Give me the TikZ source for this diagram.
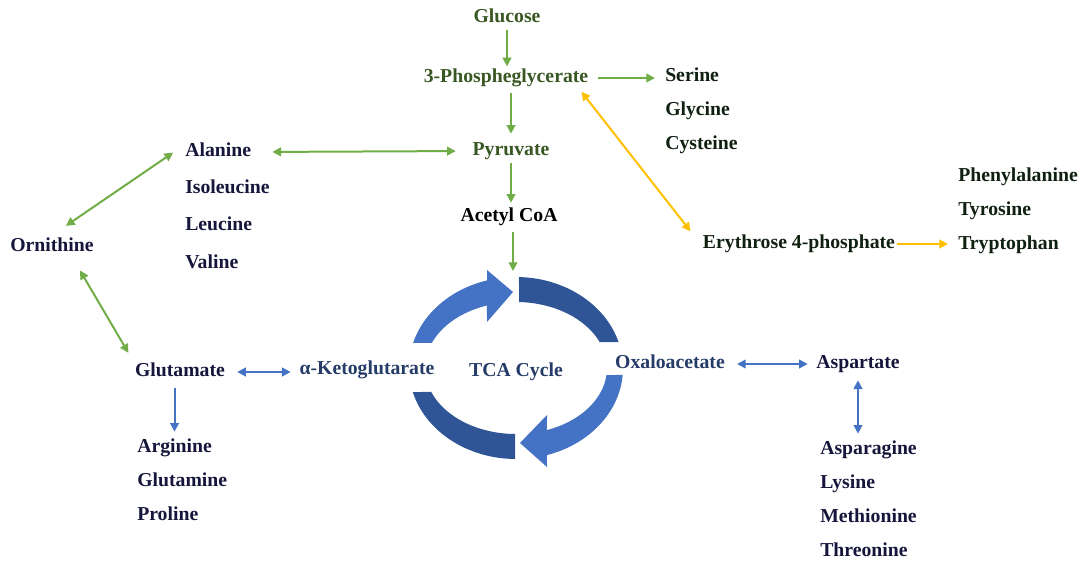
\documentclass[tikz,border=0pt]{standalone}
\usepackage{fontspec}
\setmainfont{Liberation Serif}
\usetikzlibrary{arrows.meta}

\definecolor{gline}{HTML}{70AD47}
\definecolor{bline}{HTML}{4472C4}
\definecolor{yline}{HTML}{FFC000}
\definecolor{cyclight}{HTML}{4472C4}
\definecolor{cycdark}{HTML}{2F5597}
\definecolor{gtext}{HTML}{385723}
\definecolor{ftext}{HTML}{0F2010}
\definecolor{ntext}{HTML}{16163C}
\definecolor{btext}{HTML}{253C68}

\begin{document}
\begin{tikzpicture}[x=0.75pt,y=-0.75pt,
  lbl/.style={inner sep=1.5pt, font=\fontsize{14.8}{18}\selectfont\bfseries,
              text height=10.4pt, text depth=3.7pt},
  lst/.style={lbl, anchor=west},
  link/.style={line width=1.5pt, -{Triangle[length=6.5pt,width=6.5pt]}},
  both/.style={line width=1.5pt, {Triangle[length=6.5pt,width=6.5pt]}-{Triangle[length=6.5pt,width=6.5pt]}},
  grn/.style={draw=gline, fill=gline},
  blu/.style={draw=bline, fill=bline},
  ylw/.style={draw=yline, fill=yline}]
\useasboundingbox (0,0) rectangle (1085,561);

% glycolysis branch
\node[lbl, text=gtext] (glc) at (507,18) {Glucose};
\node[lbl, text=gtext] (pg) at (506,78) {3-Phospheglycerate};
\node[lbl, text=gtext] (pyr) at (511,151) {Pyruvate};
\node[lbl, text=black] (acoa) at (509,217) {Acetyl CoA};

\node[lst, text=ftext] (ser) at (663,77) {Serine};
\node[lst, text=ftext] (gly) at (663,111) {Glycine};
\node[lst, text=ftext] (cys) at (663,145) {Cysteine};

\node[lst, text=ntext] (ala) at (183,152) {Alanine};
\node[lst, text=ntext] (ile) at (183,189) {Isoleucine};
\node[lst, text=ntext] (leu) at (183,226) {Leucine};
\node[lst, text=ntext] (val) at (183,264) {Valine};

\node[lbl, text=ntext] (orn) at (52,247) {Ornithine};
\node[lbl, text=ntext] (glu) at (180,372) {Glutamate};
\node[lbl, text=btext] (akg) at (367,370) {α-Ketoglutarate};
\node[lbl, text=btext] (tca) at (516,372) {TCA Cycle};
\node[lbl, text=btext] (oaa) at (670,364) {Oxaloacetate};
\node[lbl, text=ntext] (asp) at (858,364) {Aspartate};

\node[lst, text=ntext] (arg) at (135,448) {Arginine};
\node[lst, text=ntext] (gln) at (135,482) {Glutamine};
\node[lst, text=ntext] (pro) at (135,516) {Proline};

\node[lst, text=ntext] (asn) at (818,450) {Asparagine};
\node[lst, text=ntext] (lys) at (818,484) {Lysine};
\node[lst, text=ntext] (met) at (818,518) {Methionine};
\node[lst, text=ntext] (thr) at (818,552) {Threonine};

\node[lbl, text=ftext] (e4p) at (799,244) {Erythrose 4-phosphate};
\node[lst, text=ftext] (phe) at (956,177) {Phenylalanine};
\node[lst, text=ftext] (tyr) at (956,211) {Tyrosine};
\node[lst, text=ftext] (trp) at (956,245) {Tryptophan};

% TCA cycle ring: two arrows and two block arcs
\begin{scope}[shift={(516,368)}]
  \fill[cyclight] (-164.05:107 and 91)
     arc[start angle=-164.05, end angle=-105.7, x radius=107, y radius=91]
     -- (-29,-98) -- (-3,-76) -- (-29,-46)
     -- (-108.6:91 and 66)
     arc[start angle=-108.6, end angle=-157.7, x radius=91, y radius=66]
     -- cycle;
  \fill[cycdark] (-88.4:107 and 91)
     arc[start angle=-88.4, end angle=-16.6, x radius=107, y radius=91]
     -- (-23.2:91 and 66)
     arc[start angle=-23.2, end angle=-88.1, x radius=91, y radius=66]
     -- cycle;
  \fill[cyclight] (4.4:107 and 91)
     arc[start angle=4.4, end angle=73.2, x radius=107, y radius=91]
     -- (31,99) -- (4,75) -- (31,47)
     -- (70.1:91 and 66)
     arc[start angle=70.1, end angle=6.1, x radius=91, y radius=66]
     -- cycle;
  \fill[cycdark] (164.7:107 and 91)
     arc[start angle=164.7, end angle=90.5, x radius=107, y radius=91]
     -- (90.6:91 and 66)
     arc[start angle=90.6, end angle=158.7, x radius=91, y radius=66]
     -- cycle;
  \coordinate (cyctop) at (-3,-97);
\end{scope}

% green connectors
\draw[link, grn] (glc.south) -- (glc.south |- pg.north);
\draw[link, grn, shorten <=2.7pt, shorten >=4.2pt] (pyr.north |- pg.south) -- (pyr.north);
\draw[link, grn, shorten >=2pt] (pyr.south) -- (pyr.south |- acoa.north);
\draw[link, grn, shorten <=2.3pt] (acoa.south -| cyctop) -- (cyctop);
\draw[link, grn, shorten <=5.3pt, shorten >=6pt] (pg.east) -- (pg.east -| ser.west);
\draw[both, grn, shorten <=14.3pt, shorten >=11pt] (ala.east) -- (pyr.west);
\draw[both, grn, shorten <=9pt, shorten >=12.6pt] (ala.170) -- (orn.north);
\draw[both, grn, shorten <=10.3pt, shorten >=6.5pt] (orn.-29) -- (glu.north west);

% blue connectors
\draw[both, blu, shorten <=7.5pt, shorten >=5pt] (glu.east) -- (glu.east -| akg.west);
\draw[link, blu, shorten <=3.5pt, shorten >=3.5pt] (arg.north |- glu.south) -- (arg.north);
\draw[both, blu, shorten <=7.5pt, shorten >=4.8pt] (oaa.east) -- (asp.west);
\draw[both, blu, shorten <=3.5pt, shorten >=3.5pt] (asp.south) -- (asp.south |- asn.north);

% yellow connectors
\draw[both, ylw, shorten <=2pt, shorten >=1pt] ([xshift=-8pt]pg.south east) -- ([xshift=-7pt]e4p.north west);
\draw[link, ylw, shorten >=6pt] (e4p.east) -- (e4p.east -| trp.west);
\end{tikzpicture}
\end{document}
